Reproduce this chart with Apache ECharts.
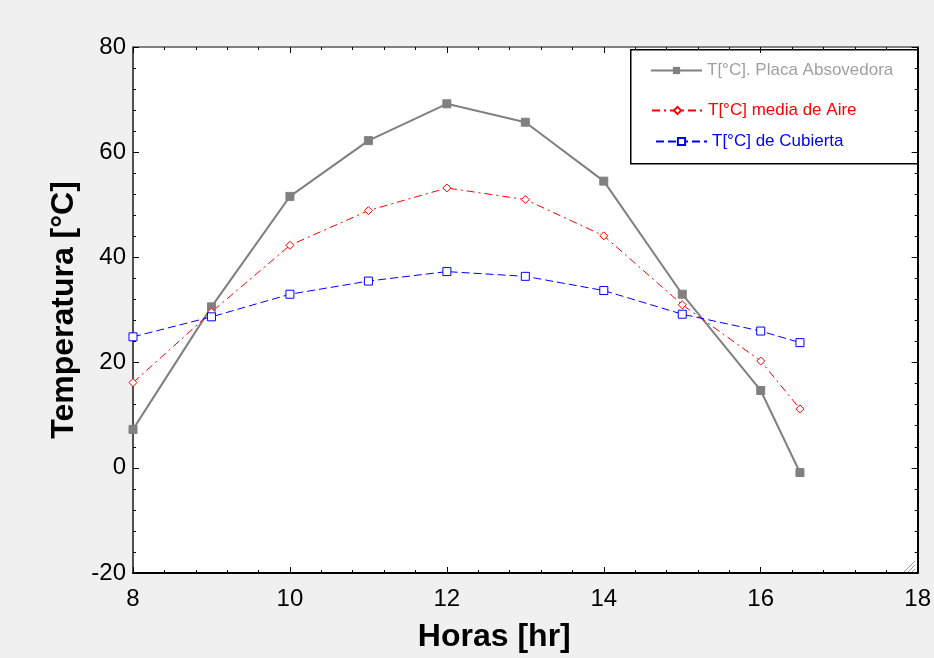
<!DOCTYPE html>
<html>
<head>
<meta charset="utf-8">
<script src="https://cdn.jsdelivr.net/npm/echarts@6/dist/echarts.min.js"></script>
<style>
html,body{margin:0;padding:0;background:#f0f0f0;}
#chart{width:934px;height:658px;}
</style>
</head>
<body>
<div id="chart"></div>
<script>
const hours = [8, 9, 10, 11, 12, 13, 14, 15, 16, 16.5];
const placa = [7.3, 30.6, 51.6, 62.2, 69.2, 65.7, 54.5, 33.0, 14.7, -0.9];
const aire = [16.2, 29.6, 42.3, 48.9, 53.2, 51.0, 44.1, 31.0, 20.3, 11.2];
const cubierta = [24.9, 28.7, 33.0, 35.5, 37.3, 36.4, 33.7, 29.2, 26.0, 23.8];
const seriesNames = ['T[°C]. Placa Absovedora', 'T[°C] media de Aire', 'T[°C] de Cubierta'];
const xTicks = {min: 8, max: 18, interval: 2};
const yTicks = {min: -20, max: 80, interval: 20};

const pairs = (vals) => hours.map((h, i) => [h, vals[i]]);
const font = 'Liberation Sans, Arial, sans-serif';

const chart = echarts.init(document.getElementById('chart'));

const baseX = {
  type: 'value', min: xTicks.min, max: xTicks.max, interval: xTicks.interval,
  splitLine: {show: false}, minorSplitLine: {show: false},
  axisTick: {show: true, inside: true, length: 6, lineStyle: {color: '#000', width: 1}},
  minorTick: {show: true, splitNumber: 5, length: 3, lineStyle: {color: '#000', width: 1}}
};
const baseY = {
  type: 'value', min: yTicks.min, max: yTicks.max, interval: yTicks.interval,
  splitLine: {show: false}, minorSplitLine: {show: false},
  axisTick: {show: true, inside: true, length: 6, lineStyle: {color: '#000', width: 1}},
  minorTick: {show: true, splitNumber: 5, length: 3, lineStyle: {color: '#000', width: 1}}
};

function legendFor(idx, top, left, color) {
  return {
    data: [{name: seriesNames[idx], textStyle: {color: color}}],
    left: left, top: top, padding: 0,
    itemWidth: 51, itemHeight: 9, itemGap: 0,
    textStyle: {fontFamily: font, fontSize: 17, padding: [0, 0, 0, 0]},
    selectedMode: false
  };
}

chart.setOption({
  backgroundColor: '#f0f0f0',
  animation: false,
  grid: {left: 133, top: 47, right: 16, bottom: 84, show: true, backgroundColor: '#ffffff', borderWidth: 0},
  legend: [
    legendFor(0, 62, 650, '#a0a0a0'),
    legendFor(1, 102, 651, '#ff0000'),
    legendFor(2, 133, 655, '#0000ff')
  ],
  xAxis: [
    Object.assign({}, baseX, {
      position: 'bottom',
      name: 'Horas [hr]', nameLocation: 'middle', nameGap: 48,
      nameTextStyle: {fontFamily: font, fontSize: 32, fontWeight: 'bold', color: '#000', padding: [0, 62, 0, 0]},
      axisLine: {show: true, onZero: false, lineStyle: {color: '#000', width: 2}},
      axisLabel: {fontFamily: font, fontSize: 24, color: '#000', margin: 14}
    }),
    Object.assign({}, baseX, {
      position: 'top',
      axisLine: {show: true, onZero: false, lineStyle: {color: '#808080', width: 2}},
      axisLabel: {show: false}
    })
  ],
  yAxis: [
    Object.assign({}, baseY, {
      position: 'left',
      name: 'Temperatura [°C]', nameLocation: 'middle', nameGap: 41,
      nameTextStyle: {fontFamily: font, fontSize: 32, fontWeight: 'bold', color: '#000'},
      axisLine: {show: true, onZero: false, lineStyle: {color: '#505050', width: 2}},
      axisLabel: {fontFamily: font, fontSize: 24, color: '#000', margin: 7}
    }),
    Object.assign({}, baseY, {
      position: 'right',
      axisLine: {show: true, onZero: false, lineStyle: {color: '#000', width: 2}},
      axisLabel: {show: false}
    })
  ],
  series: [
    {
      name: seriesNames[0], type: 'line', data: pairs(placa),
      symbol: 'rect', symbolSize: 8,
      itemStyle: {color: '#808080', borderColor: '#808080'},
      lineStyle: {color: '#808080', width: 2, type: 'solid'}
    },
    {
      name: seriesNames[1], type: 'line', data: pairs(aire),
      symbol: 'diamond', symbolSize: 8,
      itemStyle: {color: '#ffffff', borderColor: '#ff0000', borderWidth: 1},
      lineStyle: {color: '#ff0000', width: 1, type: [8, 4, 2, 4]}
    },
    {
      name: seriesNames[2], type: 'line', data: pairs(cubierta),
      symbol: 'rect', symbolSize: 8,
      itemStyle: {color: '#ffffff', borderColor: '#0000ff', borderWidth: 1},
      lineStyle: {color: '#0000ff', width: 1, type: [8, 4]}
    }
  ],
  graphic: [
    {type: 'rect', left: 630, top: 49, z: 0, shape: {width: 287, height: 114},
     style: {fill: 'transparent', stroke: '#000', lineWidth: 1.5}},
    {type: 'line', shape: {x1: 904, y1: 572, x2: 915, y2: 561}, style: {stroke: '#999', lineWidth: 1}},
    {type: 'line', shape: {x1: 908, y1: 572, x2: 915, y2: 565}, style: {stroke: '#999', lineWidth: 1}},
    {type: 'line', shape: {x1: 912, y1: 572, x2: 915, y2: 569}, style: {stroke: '#999', lineWidth: 1}}
  ]
});
</script>
</body>
</html>
